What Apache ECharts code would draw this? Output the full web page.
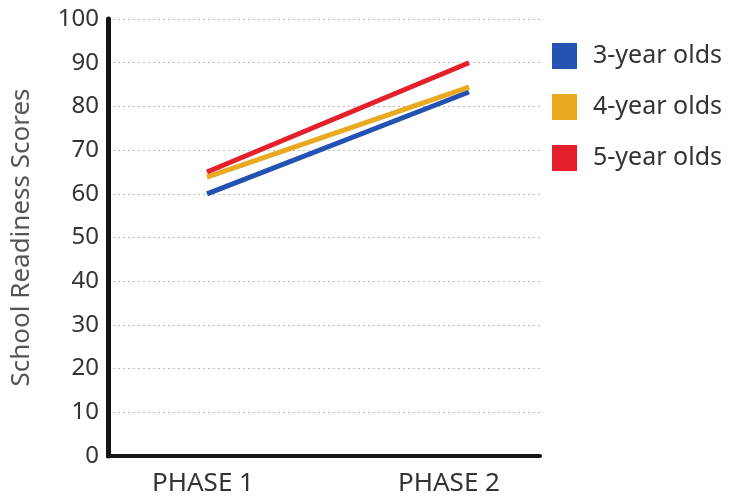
<!DOCTYPE html>
<html>
<head>
<meta charset="utf-8">
<script src="https://cdn.jsdelivr.net/npm/echarts@6/dist/echarts.min.js"></script>
<style>
  html, body { margin: 0; padding: 0; background: #fff; }
  #chart { width: 730px; height: 497px; }
</style>
</head>
<body>
<div id="chart"></div>
<script>
// Phases and readiness scores per age group
const phases = ['PHASE 1', 'PHASE 2'];
const threeYearOlds = [60, 83.3];
const fourYearOlds = [63.8, 84.4];
const fiveYearOlds = [65, 90];
const seriesNames = ['3-year olds', '4-year olds', '5-year olds'];
const yTicks = { min: 0, max: 100, step: 10 };

const font = '"Noto Sans", "Open Sans", sans-serif';
const plotTop = 19, plotBottom = 41;

const chart = echarts.init(document.getElementById('chart'));

chart.setOption({
  backgroundColor: '#ffffff',
  animation: false,
  textStyle: { fontFamily: font },
  color: ['#2352b3', '#e9a921', '#e5202a'],
  legend: {
    orient: 'vertical',
    left: 547,
    top: 38,
    itemWidth: 25,
    itemHeight: 26,
    itemGap: 25,
    icon: 'rect',
    data: seriesNames,
    textStyle: { fontSize: 25, color: '#333', fontFamily: font, padding: [0, 0, 0, 11] }
  },
  grid: [
    // frame with axes and grid lines
    { left: 108, right: 190, top: plotTop, bottom: plotBottom },
    // plotting area for the lines
    { left: 207, right: 261, top: plotTop, bottom: plotBottom },
    // phase labels
    { left: 203, right: 281, top: plotTop, bottom: plotBottom }
  ],
  xAxis: [
    {
      gridIndex: 0, type: 'category', data: phases,
      axisLine: { show: true, onZero: false, lineStyle: { color: '#151515', width: 4 } },
      axisTick: { show: false }, axisLabel: { show: false }, splitLine: { show: false }
    },
    { gridIndex: 1, type: 'category', data: phases, boundaryGap: false, show: false },
    {
      gridIndex: 2, type: 'category', data: phases, boundaryGap: false,
      axisLine: { show: false }, axisTick: { show: false },
      axisLabel: { show: true, fontSize: 26, color: '#333', margin: 16, fontFamily: font }
    }
  ],
  yAxis: [
    {
      gridIndex: 0, type: 'value', min: yTicks.min, max: yTicks.max, interval: yTicks.step,
      name: 'School Readiness Scores',
      nameLocation: 'middle',
      nameGap: 73,
      nameTextStyle: { fontSize: 26, color: '#555', fontFamily: font },
      axisLine: { show: true, lineStyle: { color: '#151515', width: 5 } },
      axisTick: { show: false },
      axisLabel: { fontSize: 24, color: '#333', margin: 9, fontFamily: font },
      splitLine: { show: true, lineStyle: { color: '#bdbdbd', type: [2, 3], width: 1 } }
    },
    { gridIndex: 1, type: 'value', min: yTicks.min, max: yTicks.max, show: false },
    { gridIndex: 2, type: 'value', min: yTicks.min, max: yTicks.max, show: false }
  ],
  series: [
    { name: seriesNames[0], data: threeYearOlds },
    { name: seriesNames[1], data: fourYearOlds },
    { name: seriesNames[2], data: fiveYearOlds }
  ].map(s => ({
    name: s.name,
    type: 'line',
    xAxisIndex: 1,
    yAxisIndex: 1,
    data: s.data,
    symbol: 'none',
    lineStyle: { width: 5 }
  }))
});
</script>
</body>
</html>
